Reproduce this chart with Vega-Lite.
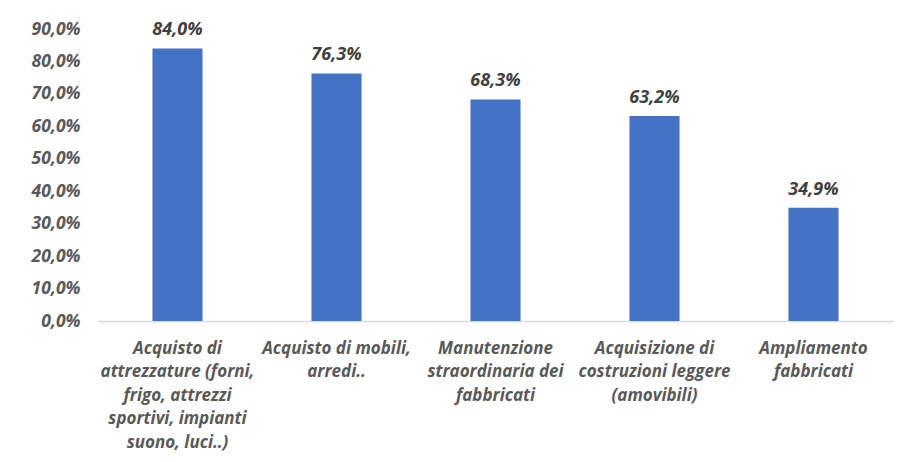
{
  "$schema": "https://vega.github.io/schema/vega-lite/v6.json",
  "autosize": "none",
  "width": 795,
  "height": 292,
  "padding": {"left": 98, "top": 29, "right": 6, "bottom": 141},
  "background": "white",
  "data": {"values": [
    {"cat": "Acquisto di|attrezzature (forni,|frigo, attrezzi|sportivi, impianti|suono, luci..)", "v": 0.840},
    {"cat": "Acquisto di mobili,|arredi..", "v": 0.763},
    {"cat": "Manutenzione|straordinaria dei|fabbricati", "v": 0.683},
    {"cat": "Acquisizione di|costruzioni leggere|(amovibili)", "v": 0.632},
    {"cat": "Ampliamento|fabbricati", "v": 0.349}
  ]},
  "encoding": {
    "x": {"field": "cat", "type": "nominal", "sort": null, "title": null,
      "scale": {"paddingInner": 0.685, "paddingOuter": 0.3425},
      "axis": {"labelAngle": 0, "labelExpr": "split(datum.label, '|')", "labelFont": "Open Sans", "labelFontSize": 17, "labelFontWeight": "bold", "labelFontStyle": "italic", "labelColor": "#595959", "labelLineHeight": 23.5, "labelPadding": 19, "labelBaseline": "top", "ticks": false, "domainColor": "#d9d9d9", "domainWidth": 1.5, "labelLimit": 220}},
    "y": {"field": "v", "type": "quantitative", "title": null,
      "scale": {"domain": [0, 0.9]},
      "axis": {"values": [0, 0.1, 0.2, 0.3, 0.4, 0.5, 0.6, 0.7, 0.8, 0.9], "labelExpr": "replace(format(datum.value, '.1%'), '.', ',')", "grid": false, "domain": false, "ticks": false, "labelFont": "Open Sans", "labelFontSize": 17.5, "labelFontWeight": "bold", "labelFontStyle": "italic", "labelColor": "#595959", "labelPadding": 18}}
  },
  "layer": [
    {"mark": {"type": "bar", "color": "#4472C4"}},
    {"mark": {"type": "text", "dy": -9, "baseline": "bottom", "font": "Open Sans", "fontSize": 18, "fontWeight": "bold", "fontStyle": "italic", "color": "#404040"},
     "encoding": {"text": {"field": "v", "type": "quantitative", "format": ".1%"}}}
  ],
  "config": {
    "view": {"stroke": null},
    "locale": {"number": {"decimal": ",", "thousands": ".", "grouping": [3], "currency": ["€", ""]}}
  }
}
